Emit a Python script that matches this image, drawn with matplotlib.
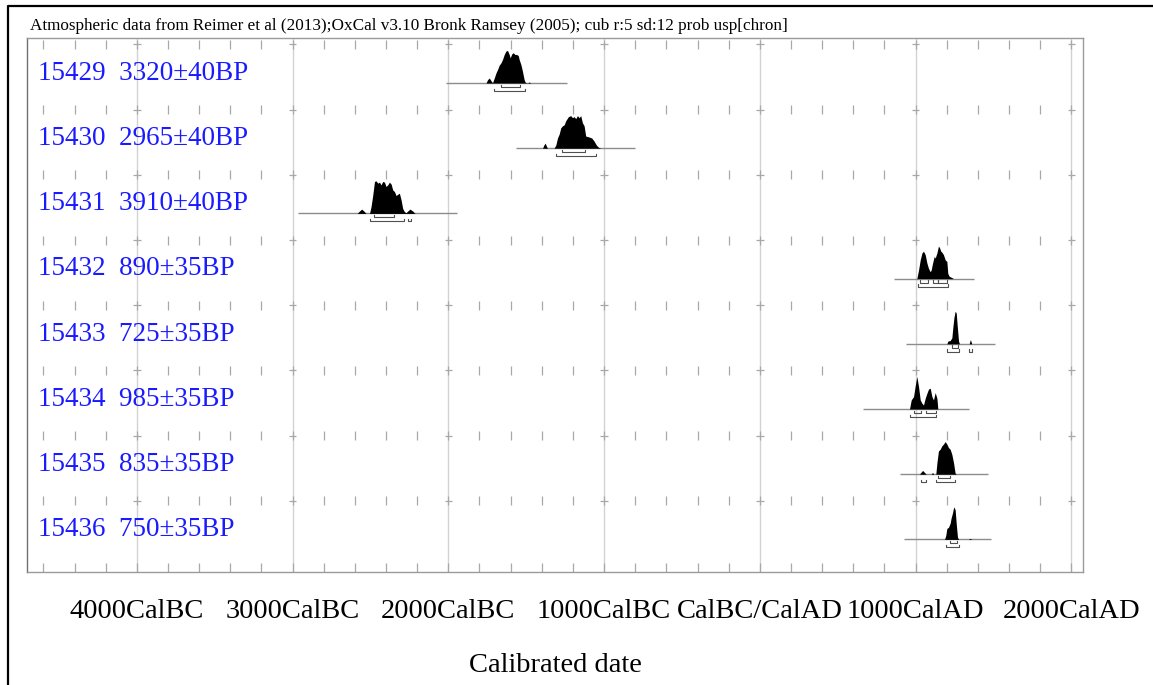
import matplotlib
matplotlib.use("Agg")
import matplotlib.pyplot as plt
from matplotlib.lines import Line2D
import numpy as np

# sample labels
lab_ids = ["15429", "15430", "15431", "15432", "15433", "15434", "15435", "15436"]
bp_labels = ["3320±40BP", "2965±40BP", "3910±40BP", "890±35BP",
             "725±35BP", "985±35BP", "835±35BP", "750±35BP"]

# calibrated probability distributions (cal year, relative probability)
yrs_15429 = [-1758, -1748, -1737, -1726, -1716, -1705, -1694, -1684, -1673, -1662, -1652, -1641, -1630,
             -1620, -1609, -1603, -1592, -1583, -1572, -1562, -1551, -1545, -1534, -1524, -1513, -1506,
             -1492, -1481, -1470]
p_15429 = [0, 3.3, 5, 2.3, 0.3, 5, 10, 13.3, 17.7, 20, 23.3, 28.3, 31.7, 32.3, 28.3, 25, 29, 30, 28.3,
           28.3, 27.3, 23.3, 18.3, 11.7, 3.3, 0.7, 0, 1, 0]

yrs_15430 = [-1395, -1387, -1378, -1370, -1363, -1321, -1310, -1299, -1288, -1278, -1267, -1256, -1246,
             -1229, -1214, -1203, -1192, -1182, -1171, -1160, -1150, -1139, -1128, -1118, -1096, -1079,
             -1064, -1049, -1036, -1021]
p_15430 = [0, 3, 5, 2, 0, 0, 3, 10, 14, 20, 22, 23, 27, 31, 32, 30, 31, 29, 32, 30, 32, 25, 22, 12,
           11, 10, 7, 3, 1, 0]

yrs_15431 = [-2585, -2571, -2556, -2538, -2528, -2506, -2496, -2485, -2474, -2464, -2453, -2442, -2432,
             -2421, -2410, -2400, -2389, -2378, -2367, -2357, -2346, -2335, -2325, -2314, -2303, -2293,
             -2282, -2271, -2261, -2246, -2228, -2214]
p_15431 = [0, 2.3, 4.3, 1.7, 0, 0, 6.7, 18.3, 31.7, 32.3, 30, 31, 28.3, 31.7, 31, 26.7, 28.3, 31, 29,
           23.3, 21.7, 17.7, 19, 20, 13.3, 5, 1.7, 0.7, 2.3, 4.3, 2.3, 0]

yrs_15432 = [1008, 1019, 1030, 1041, 1051, 1062, 1073, 1083, 1094, 1100, 1109, 1120, 1126, 1137, 1147,
             1154, 1162, 1169, 1179, 1190, 1201, 1207, 1216, 1233, 1244]
p_15432 = [0, 8.3, 18.3, 25, 26.7, 23.3, 15, 10, 6.7, 8.3, 15, 21.7, 20, 25, 31.7, 30, 26.7, 25.7,
           23.3, 18.3, 16.7, 5, 2.3, 1, 0]

yrs_15433 = [1201, 1207, 1222, 1233, 1239, 1246, 1254, 1261, 1267, 1276, 1282, 1344, 1352, 1361]
p_15433 = [0, 2.7, 3.3, 6, 16, 26, 32.7, 31, 19, 2.7, 0, 0, 4.3, 0]

yrs_15434 = [961, 972, 987, 997, 1008, 1019, 1030, 1041, 1051, 1062, 1073, 1083, 1094, 1105, 1115,
             1126, 1137, 1143]
p_15434 = [0, 9, 12.3, 22.3, 32.3, 22.3, 9, 5.7, 4, 10.7, 15.7, 19.7, 20.7, 12.3, 9, 16.3, 10.7, 0]

yrs_15435 = [1026, 1030, 1045, 1062, 1068, 1100, 1109, 1117, 1130, 1137, 1147, 1158, 1169, 1179, 1190,
             1201, 1211, 1222, 1233, 1244, 1254, 1261]
p_15435 = [0, 1, 3.7, 1, 0, 0, 1.7, 0, 0, 11, 22.7, 24.3, 27.7, 29.3, 31.7, 29.3, 26, 24.3, 19.3, 11,
           1, 0]

yrs_15436 = [1186, 1194, 1201, 1211, 1222, 1228, 1237, 1245, 1254, 1261, 1269, 1276, 1340, 1350, 1361]
p_15436 = [0, 4, 10.7, 11.7, 15.7, 20.7, 25.7, 31.7, 29, 15.7, 2.3, 0, 0, 1, 0]

all_yrs = [yrs_15429, yrs_15430, yrs_15431, yrs_15432, yrs_15433, yrs_15434, yrs_15435, yrs_15436]
all_p = [p_15429, p_15430, p_15431, p_15432, p_15433, p_15434, p_15435, p_15436]

# extent of the grey line under each distribution
line_lo = [-2013, -1564, -2962, 859, 936, 660, 897, 923]
line_hi = [-1237, -801, -1942, 1372, 1513, 1340, 1462, 1487]

# 68.2% and 95.4% ranges
r68 = [[(-1659, -1541)],
       [(-1267, -1121)],
       [(-2474, -2350)],
       [(1030, 1083), (1115, 1143), (1147, 1201)],
       [(1233, 1271)],
       [(987, 1036), (1067, 1132)],
       [(1143, 1222)],
       [(1222, 1265)]]
r95 = [[(-1705, -1506)],
       [(-1310, -1053)],
       [(-2500, -2286), (-2261, -2240)],
       [(1015, 1207)],
       [(1201, 1276), (1344, 1361)],
       [(965, 1132)],
       [(1036, 1065), (1130, 1254)],
       [(1197, 1276)]]

major_years = [-4000, -3000, -2000, -1000, 0, 1000, 2000]
major_labels = ["4000CalBC", "3000CalBC", "2000CalBC", "1000CalBC", "CalBC/CalAD", "1000CalAD", "2000CalAD"]
minor_years = list(range(-4600, 2001, 200))

title = "Atmospheric data from Reimer et al (2013);OxCal v3.10 Bronk Ramsey (2005); cub r:5 sd:12 prob usp[chron]"

W, H = 1153, 685
fig = plt.figure(figsize=(W / 100, H / 100), dpi=100)
serif = ["Liberation Serif", "DejaVu Serif"]

ax_top, ax_bot = 38, 572
ax = fig.add_axes([27 / W, 1 - ax_bot / H, (1083 - 27) / W, (ax_bot - ax_top) / H])
row_px = 65.2
ax.set_xlim(-4705, 2075)
ax.set_ylim(8 - (ax_bot - 40) / row_px, 8 - (ax_top - 40) / row_px)
ax.set_xticks([])
ax.set_yticks([])
for s in ax.spines.values():
    s.set_color("#9a9a9a")
    s.set_linewidth(1.0)
ax.spines["left"].set_color("#707070")

u = 1 / row_px  # one pixel in y units

# major grid
for yr in major_years:
    ax.axvline(yr, color="#d2d2d2", lw=1.0, zorder=0)

# row separator ticks
for i in range(8):
    yb = 8 - i
    ax.vlines(minor_years, yb - 9 * u, yb, color="#a8a8a8", lw=0.9, zorder=1)
    for yr in major_years:
        ax.hlines(yb - 4.5 * u, yr - 24, yr + 24, color="#a8a8a8", lw=0.9, zorder=1)

# bottom axis ticks
ybot = ax.get_ylim()[0]
ax.vlines(minor_years, ybot, ybot + 9 * u, color="#a8a8a8", lw=0.9, zorder=1)

# rows
for i in range(8):
    base = 7.34 - i
    ax.text(-4635, 7.49 - i, lab_ids[i] + "  " + bp_labels[i], color="#1a1aff",
            fontsize=19.5, family=serif, ha="left", va="center")
    ax.hlines(base, line_lo[i], line_hi[i], color="#8c8c8c", lw=1.0, zorder=2)
    p = np.array(all_p[i], dtype=float)
    ax.fill_between(all_yrs[i], base, base + p / p.max() * 0.5, color="black", lw=0, zorder=3)
    for off, ranges in ((4, r68[i]), (8, r95[i])):
        yy = base - off * u
        for a, b in ranges:
            ax.plot([a, a, b, b], [yy + 2.5 * u, yy, yy, yy + 2.5 * u], color="#505050", lw=0.8, zorder=3)

# x labels
xt = ax.get_xaxis_transform()
for yr, lab in zip(major_years, major_labels):
    ax.text(yr, -(611 - ax_bot) / (ax_bot - ax_top), lab, transform=xt, ha="center", va="center",
            fontsize=20.5, family=serif)
ax.text(0.5, -(665 - ax_bot) / (ax_bot - ax_top), "Calibrated date", transform=ax.transAxes,
        ha="center", va="center", fontsize=20.5, family=serif)

fig.text(30 / W, 1 - 26 / H, title, ha="left", va="center", fontsize=12.3, family=serif)

# outer frame
fig.add_artist(Line2D([8 / W, 8 / W, 1.0], [0.0, 1 - 6 / H, 1 - 6 / H], transform=fig.transFigure,
                      color="black", lw=1.6))

fig.savefig("out.png", dpi=100)
